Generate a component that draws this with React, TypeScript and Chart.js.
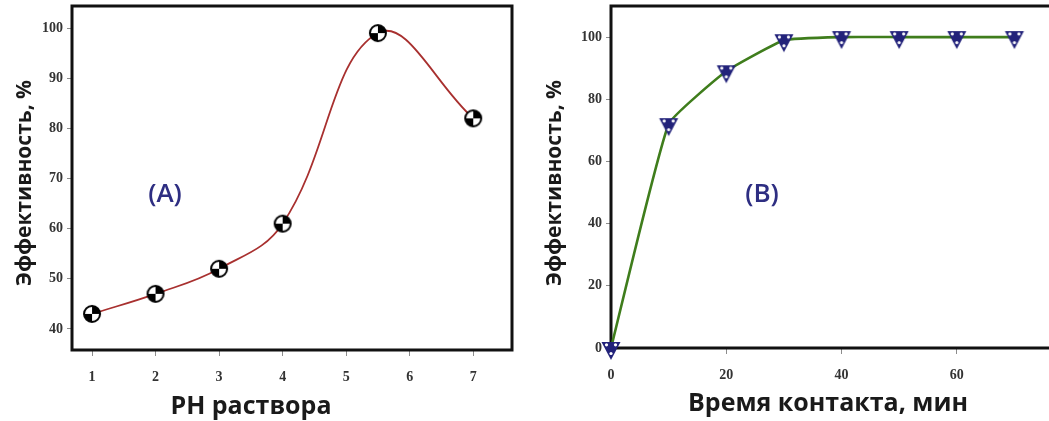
import { useEffect, useRef } from "react";
import { Chart, registerables } from "chart.js";

Chart.register(...registerables);

// Panel A: efficiency vs. solution pH
const phValues = [1, 2, 3, 4, 5.5, 7];
const phEfficiency = [43, 47, 52, 61, 99, 82];
const phTicksX = [1, 2, 3, 4, 5, 6, 7];
const phTicksY = [40, 50, 60, 70, 80, 90, 100];

// Panel B: efficiency vs. contact time
const contactTimes = [0, 10, 20, 30, 40, 50, 60, 70];
const contactEfficiency = [0, 72, 89, 99, 100, 100, 100, 100];
const timeTicksX = [0, 20, 40, 60];
const timeTicksY = [0, 20, 40, 60, 80, 100];

const TITLE_FONT = '"Open Sans", "DejaVu Sans", sans-serif';
const TICK_FONT = { family: '"Liberation Serif", serif', weight: "bold" as const, size: 14 };
const TICK_COLOR = "#333";

function makeQuadrantMarker(): HTMLCanvasElement {
  const c = document.createElement("canvas");
  c.width = 20;
  c.height = 20;
  const g = c.getContext("2d")!;
  const cx = 10, cy = 10, r = 8;
  g.fillStyle = "#fff";
  g.beginPath();
  g.arc(cx, cy, r, 0, Math.PI * 2);
  g.fill();
  g.fillStyle = "#000";
  g.beginPath();
  g.moveTo(cx, cy);
  g.arc(cx, cy, r, -Math.PI / 2, 0);
  g.closePath();
  g.fill();
  g.beginPath();
  g.moveTo(cx, cy);
  g.arc(cx, cy, r, Math.PI / 2, Math.PI);
  g.closePath();
  g.fill();
  g.lineWidth = 2;
  g.strokeStyle = "#000";
  g.beginPath();
  g.arc(cx, cy, r, 0, Math.PI * 2);
  g.stroke();
  return c;
}

function makeTriangleMarker(): HTMLCanvasElement {
  const c = document.createElement("canvas");
  c.width = 28;
  c.height = 28;
  const g = c.getContext("2d")!;
  g.fillStyle = "#22227a";
  g.beginPath();
  g.moveTo(4.5, 8);
  g.lineTo(23.5, 8);
  g.lineTo(14, 26);
  g.closePath();
  g.fill();
  g.fillStyle = "#fff";
  const dots = [
    [9.5, 10.8],
    [18.5, 10.8],
    [14, 19.5],
  ];
  for (const [x, y] of dots) {
    g.beginPath();
    g.arc(x, y, 1.6, 0, Math.PI * 2);
    g.fill();
  }
  return c;
}

type PanelText = {
  openRight: boolean;
  tag: string;
  tagX: number;
  tagY: number;
  xTitle: string;
  xTitleX: number;
  xTitleY: number;
  yTitle: string;
  yTitleX: number;
  yTitleY: number;
};

function framePlugin(p: PanelText) {
  return {
    id: "frame",
    beforeDatasetsDraw(chart: Chart) {
      const { ctx, chartArea: a } = chart;
      ctx.save();
      ctx.strokeStyle = "#111";
      ctx.lineWidth = 3;
      ctx.lineCap = "square";
      ctx.beginPath();
      if (p.openRight) {
        ctx.moveTo(chart.width + 4, a.top);
        ctx.lineTo(a.left, a.top);
        ctx.lineTo(a.left, a.bottom);
        ctx.lineTo(chart.width + 4, a.bottom);
      } else {
        ctx.rect(a.left, a.top, a.right - a.left, a.bottom - a.top);
      }
      ctx.stroke();
      ctx.restore();
    },
    afterDraw(chart: Chart) {
      const { ctx } = chart;
      ctx.save();
      ctx.fillStyle = "#1a1a1a";
      ctx.textAlign = "center";
      ctx.textBaseline = "alphabetic";
      ctx.font = `bold 25px ${TITLE_FONT}`;
      ctx.fillText(p.xTitle, p.xTitleX, p.xTitleY);

      ctx.save();
      ctx.translate(p.yTitleX, p.yTitleY);
      ctx.rotate(-Math.PI / 2);
      ctx.textBaseline = "middle";
      ctx.font = `bold 21px ${TITLE_FONT}`;
      ctx.fillText(p.yTitle, 0, 0);
      ctx.restore();

      ctx.fillStyle = "#2e2e82";
      ctx.textBaseline = "middle";
      ctx.font = `600 26px ${TITLE_FONT}`;
      ctx.fillText(p.tag, p.tagX, p.tagY);
      ctx.restore();
    },
  };
}

function axis(
  ticks: number[],
  min: number,
  max: number,
  horizontal: boolean,
  size: number
) {
  return {
    type: "linear" as const,
    min,
    max,
    afterBuildTicks: (s: any) => {
      s.ticks = ticks.map((v) => ({ value: v }));
    },
    afterFit: (s: any) => {
      if (horizontal) s.height = size;
      else s.width = size;
      s.paddingLeft = 0;
      s.paddingRight = 0;
      s.paddingTop = 0;
      s.paddingBottom = 0;
    },
    border: { display: false },
    grid: {
      drawOnChartArea: false,
      drawTicks: true,
      tickLength: horizontal ? 6 : 5,
      color: "#8c8c8c",
      lineWidth: 1,
    },
    ticks: {
      font: TICK_FONT,
      color: TICK_COLOR,
      padding: horizontal ? 13 : 4,
      autoSkip: false,
      maxRotation: 0,
    },
  };
}

function PhChart() {
  const ref = useRef<HTMLCanvasElement>(null);
  useEffect(() => {
    const chart = new Chart(ref.current!, {
      type: "line",
      data: {
        datasets: [
          {
            data: phValues.map((x, i) => ({ x, y: phEfficiency[i] })),
            borderColor: "#a8302f",
            borderWidth: 1.8,
            tension: 0.4,
            pointStyle: makeQuadrantMarker(),
            pointRadius: 9,
            clip: false as any,
          },
        ],
      },
      options: {
        responsive: false,
        animation: false,
        events: [],
        layout: { autoPadding: false, padding: { left: 0, top: 6, right: 8, bottom: 0 } },
        plugins: { legend: { display: false }, tooltip: { enabled: false } },
        scales: {
          x: axis(phTicksX, 0.685, 7.61, true, 71),
          y: axis(phTicksY, 35.8, 104.4, false, 72),
        },
      },
      plugins: [
        framePlugin({
          openRight: false,
          tag: "(A)",
          tagX: 165,
          tagY: 195,
          xTitle: "PH раствора",
          xTitleX: 251,
          xTitleY: 414,
          yTitle: "Эффективность, %",
          yTitleX: 25,
          yTitleY: 183,
        }),
      ],
    });
    return () => chart.destroy();
  }, []);
  return (
    <canvas
      ref={ref}
      width={520}
      height={421}
      style={{ position: "absolute", left: 0, top: 0 }}
    />
  );
}

function TimeChart() {
  const ref = useRef<HTMLCanvasElement>(null);
  useEffect(() => {
    const chart = new Chart(ref.current!, {
      type: "line",
      data: {
        datasets: [
          {
            data: contactTimes.map((x, i) => ({ x, y: contactEfficiency[i] })),
            borderColor: "#3f7d1c",
            borderWidth: 2.6,
            tension: 0.12,
            pointStyle: makeTriangleMarker(),
            pointRadius: 12,
            clip: false as any,
          },
        ],
      },
      options: {
        responsive: false,
        animation: false,
        events: [],
        layout: { autoPadding: false, padding: { left: 0, top: 6, right: 0, bottom: 0 } },
        plugins: { legend: { display: false }, tooltip: { enabled: false } },
        scales: {
          x: axis(timeTicksX, 0, 76, true, 73),
          y: axis(timeTicksY, 0, 110, false, 91),
        },
      },
      plugins: [
        framePlugin({
          openRight: true,
          tag: "(B)",
          tagX: 242,
          tagY: 195,
          xTitle: "Время контакта, мин",
          xTitleX: 308,
          xTitleY: 411,
          yTitle: "Эффективность, %",
          yTitleX: 35,
          yTitleY: 183,
        }),
      ],
    });
    return () => chart.destroy();
  }, []);
  return (
    <canvas
      ref={ref}
      width={529}
      height={421}
      style={{ position: "absolute", left: 520, top: 0 }}
    />
  );
}

export default function App() {
  return (
    <div
      style={{
        position: "fixed",
        left: 0,
        top: 0,
        width: 1049,
        height: 421,
        background: "#fff",
        overflow: "hidden",
      }}
    >
      <PhChart />
      <TimeChart />
    </div>
  );
}
